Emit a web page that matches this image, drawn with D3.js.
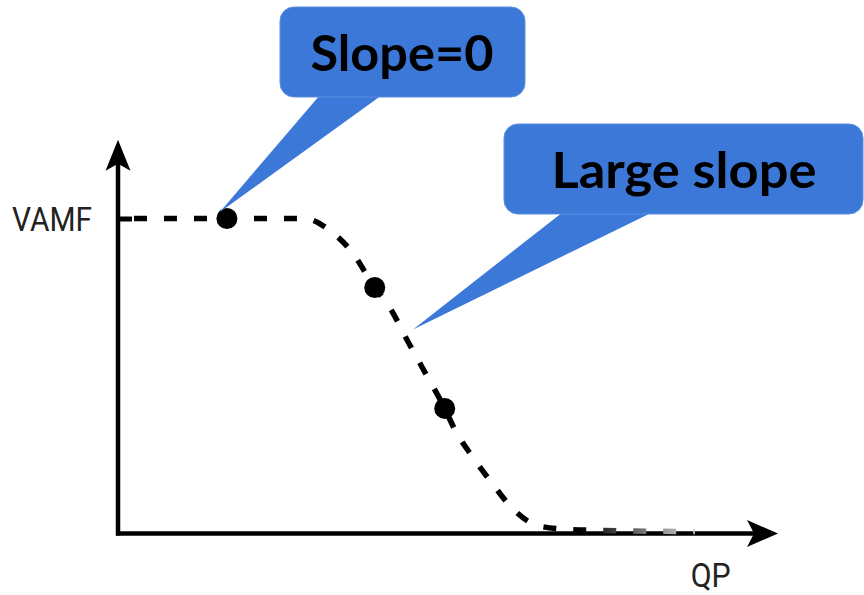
<!DOCTYPE html>
<html>
<head>
<meta charset="utf-8">
<script src="https://cdn.jsdelivr.net/npm/d3@7"></script>
<style>
html,body{margin:0;padding:0;background:#fff;}
svg{display:block;}
</style>
</head>
<body>
<svg id="chart" width="864" height="595"></svg>
<script>
// ---- data ----
const curveQP   = [0.03, 2.83, 3.21, 3.55, 3.89, 4.12, 4.36, 4.61, 4.95, 5.11, 5.38, 5.67, 5.98, 6.36, 6.82, 7.30, 8.74];
const curveVAMF = [1.00, 1.00, 0.962, 0.892, 0.781, 0.717, 0.622, 0.527, 0.397, 0.327, 0.241, 0.159, 0.079, 0.025, 0.013, 0.010, 0.006];
const pointQP   = [1.65, 3.89, 4.95];
const pointVAMF = [1.00, 0.781, 0.397];
const yTickValues = [1];
const yTickLabels = ["VAMF"];
const xAxisTitle = "QP";
const calloutTexts = ["Slope=0", "Large slope"];
const calloutTargetQP = [1.54, 4.47];
const calloutTargetVAMF = [1.02, 0.648];

// ---- layout ----
const svg = d3.select("#chart");
const x = d3.scaleLinear().domain([0, 10]).range([118, 778]);
const y = d3.scaleLinear().domain([0, 1]).range([533.5, 218.5]);
const yTop = 1.25;

// gradient for fading tail
const defs = svg.append("defs");
const grad = defs.append("linearGradient").attr("id", "fade")
  .attr("gradientUnits", "userSpaceOnUse")
  .attr("x1", x(7.0)).attr("x2", x(8.8)).attr("y1", 0).attr("y2", 0);
grad.append("stop").attr("offset", 0).attr("stop-color", "#000");
grad.append("stop").attr("offset", 1).attr("stop-color", "#d8d8d8");

// axes lines
const axisG = svg.append("g");
axisG.append("line")
  .attr("x1", x(0)).attr("x2", x(0))
  .attr("y1", y(0) + 2).attr("y2", y(yTop) + 20)
  .attr("stroke", "#000").attr("stroke-width", 4.5);
axisG.append("line")
  .attr("x1", x(0) - 2).attr("x2", x(10) - 20)
  .attr("y1", y(0)).attr("y2", y(0))
  .attr("stroke", "#000").attr("stroke-width", 4.5);
// arrowheads
axisG.append("path")
  .attr("transform", `translate(${x(0)},${y(yTop)})`)
  .attr("d", "M0,0 L-12.5,31 L0,24 L12.5,31 Z").attr("fill", "#000");
axisG.append("path")
  .attr("transform", `translate(${x(10)},${y(0)})`)
  .attr("d", "M0,0 L-31,-13.5 L-24,0 L-31,13.5 Z").attr("fill", "#000");

// y axis tick + label via d3 axis
const yAxis = d3.axisLeft(y)
  .tickValues(yTickValues)
  .tickFormat((d, i) => yTickLabels[i])
  .tickSizeInner(-14).tickSizeOuter(0).tickPadding(26);
const yg = svg.append("g").attr("transform", `translate(${x(0)},0)`).call(yAxis);
yg.select(".domain").remove();
yg.selectAll(".tick line").attr("stroke", "#000").attr("stroke-width", 5);
yg.selectAll(".tick text")
  .attr("font-family", "Roboto, 'Liberation Sans', sans-serif")
  .attr("font-size", 34).attr("fill", "#222")
  .attr("dy", "0.36em")
  .attr("textLength", 80).attr("lengthAdjust", "spacingAndGlyphs");

// x axis title
svg.append("text")
  .attr("x", x(8.98)).attr("y", 587)
  .attr("text-anchor", "middle")
  .attr("font-family", "Roboto, 'Liberation Sans', sans-serif")
  .attr("font-size", 33).attr("fill", "#222")
  .attr("textLength", 40).attr("lengthAdjust", "spacingAndGlyphs")
  .text(xAxisTitle);

// dashed curve
const curveData = curveQP.map((q, i) => [q, curveVAMF[i]]);
const line = d3.line().x(d => x(d[0])).y(d => y(d[1])).curve(d3.curveMonotoneX);
svg.append("path")
  .datum(curveData)
  .attr("d", line)
  .attr("fill", "none")
  .attr("stroke", "url(#fade)")
  .attr("stroke-width", 5.5)
  .attr("stroke-dasharray", "13,17")
  .attr("stroke-dashoffset", -14);

// points
svg.append("g").selectAll("circle")
  .data(pointQP.map((q, i) => [q, pointVAMF[i]]))
  .join("circle")
  .attr("cx", d => x(d[0])).attr("cy", d => y(d[1]))
  .attr("r", 10.5).attr("fill", "#000");

// callouts
const boxes = [
  {x: 280, y: 7, w: 245, h: 90, b1: 320, b2: 382, tx: 402, ty: 71, tl: 183},
  {x: 504, y: 124, w: 359, h: 90, b1: 563, b2: 653, tx: 684, ty: 188, tl: 265}
];
const cg = svg.append("g");
boxes.forEach((b, i) => {
  const tx = x(calloutTargetQP[i]), ty = y(calloutTargetVAMF[i]);
  cg.append("path")
    .attr("d", `M${b.b1},${b.y + b.h - 2} L${tx},${ty} L${b.b2},${b.y + b.h - 2} Z`)
    .attr("fill", "#3c78d8");
  cg.append("rect")
    .attr("x", b.x).attr("y", b.y).attr("width", b.w).attr("height", b.h)
    .attr("rx", 14).attr("fill", "#3c78d8")
    .attr("stroke", "#5b8fe0").attr("stroke-width", 1);
  cg.append("text")
    .attr("x", b.tx).attr("y", b.ty)
    .attr("text-anchor", "middle")
    .attr("font-family", "Lato, 'Open Sans', sans-serif")
    .attr("font-weight", 700)
    .attr("font-size", 50).attr("fill", "#000")
    .attr("textLength", b.tl).attr("lengthAdjust", "spacingAndGlyphs")
    .text(calloutTexts[i]);
});
</script>
</body>
</html>
